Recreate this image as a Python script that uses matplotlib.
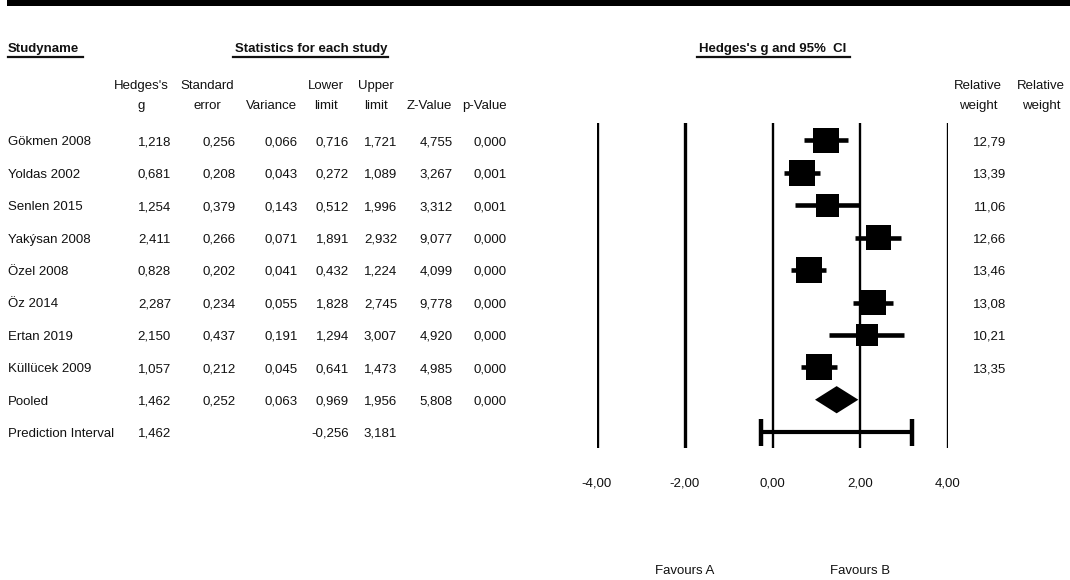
import matplotlib
matplotlib.use("Agg")
import matplotlib.pyplot as plt
from matplotlib.lines import Line2D
from matplotlib.patches import Rectangle
from matplotlib.transforms import blended_transform_factory

plt.rcParams['font.family'] = ['Liberation Sans', 'DejaVu Sans']

studies = ['Gökmen 2008', 'Yoldas 2002', 'Senlen 2015', 'Yakýsan 2008',
           'Özel 2008', 'Öz 2014', 'Ertan 2019', 'Küllücek 2009']
g = [1.218, 0.681, 1.254, 2.411, 0.828, 2.287, 2.150, 1.057]
se = [0.256, 0.208, 0.379, 0.266, 0.202, 0.234, 0.437, 0.212]
var = [0.066, 0.043, 0.143, 0.071, 0.041, 0.055, 0.191, 0.045]
lower = [0.716, 0.272, 0.512, 1.891, 0.432, 1.828, 1.294, 0.641]
upper = [1.721, 1.089, 1.996, 2.932, 1.224, 2.745, 3.007, 1.473]
zval = [4.755, 3.267, 3.312, 9.077, 4.099, 9.778, 4.920, 4.985]
pval = [0.000, 0.001, 0.001, 0.000, 0.000, 0.000, 0.000, 0.000]
weight = [12.79, 13.39, 11.06, 12.66, 13.46, 13.08, 10.21, 13.35]

pooled = dict(g=1.462, se=0.252, var=0.063, lower=0.969, upper=1.956, z=5.808, p=0.000)
pred = dict(g=1.462, lower=-0.256, upper=3.181)

ticks = [-4, -2, 0, 2, 4]
tick_labels = ['-4,00', '-2,00', '0,00', '2,00', '4,00']

W, H = 1070, 580
fig = plt.figure(figsize=(W / 100, H / 100), dpi=100)
ink = '#111111'
fs = 9.5
base = 0.15  # baseline offset below row centre, in row units


def fx(x):
    return x / W


def fy(y):
    return 1 - y / H


def num(v):
    return f"{v:.3f}".replace('.', ',')


# forest axes: x from -4 to 4 maps to pixels 597..948
ax = fig.add_axes([fx(597), fy(448), (948 - 597) / W, (448 - 123) / H])
ax.set_xlim(-4, 4)
ax.set_ylim(9.49, -0.54)
for s in ax.spines.values():
    s.set_visible(False)
ax.set_yticks([])
ax.set_xticks(ticks)
ax.set_xticklabels(tick_labels, fontsize=fs, color=ink)
ax.tick_params(axis='x', length=0, pad=21)

for t in ticks:
    lw = 1.7 if t in (0, 2) else 2.4
    ax.axvline(t, color='black', lw=lw)

rows = list(range(len(studies)))
ax.hlines(rows, lower, upper, color='black', lw=3.3)
ax.scatter(g, rows, marker='s', s=[26 * w for w in weight], color='black', linewidths=0, zorder=3)

# pooled diamond
pr = len(studies)
h = 0.42
ax.fill([pooled['lower'], pooled['g'], pooled['upper'], pooled['g']],
        [pr, pr - h, pr, pr + h], color='black', lw=0)

# prediction interval
ir = pr + 1
ax.hlines(ir, pred['lower'], pred['upper'], color='black', lw=3)
ax.vlines([pred['lower'], pred['upper']], ir - h, ir + h, color='black', lw=3.2)

# table text
tr = blended_transform_factory(fig.transFigure, ax.transData)
col_right = [171, 236, 298, 349, 397, 453, 507]


def cell(x, row, s, ha='right'):
    fig.text(fx(x), row + base, s, transform=tr, ha=ha, va='baseline', fontsize=fs, color=ink)


for i, name in enumerate(studies):
    cell(8, i, name, ha='left')
    vals = [g[i], se[i], var[i], lower[i], upper[i], zval[i], pval[i]]
    for xr, v in zip(col_right, vals):
        cell(xr, i, num(v))
    cell(1006, i, f"{weight[i]:.2f}".replace('.', ','))

cell(8, pr, 'Pooled', ha='left')
pooled_vals = [pooled['g'], pooled['se'], pooled['var'], pooled['lower'], pooled['upper'], pooled['z'], pooled['p']]
for xr, v in zip(col_right, pooled_vals):
    cell(xr, pr, num(v))

cell(8, ir, 'Prediction Interval', ha='left')
for xr, v in zip([col_right[0], col_right[3], col_right[4]], [pred['g'], pred['lower'], pred['upper']]):
    cell(xr, ir, num(v))

# column headers
headers = [(141, 'Hedges\'s', 'g'), (207, 'Standard', 'error'), (272, '', 'Variance'),
           (326, 'Lower', 'limit'), (376, 'Upper', 'limit'), (429, '', 'Z-Value'),
           (484, '', 'p-Value'), (978, 'Relative', 'weight'), (1041, 'Relative', 'weight')]
for xc, l1, l2 in headers:
    if l1:
        fig.text(fx(xc), fy(89), l1, ha='center', va='baseline', fontsize=fs, color=ink)
    fig.text(fx(xc), fy(109), l2, ha='center', va='baseline', fontsize=fs, color=ink)

# bold underlined section titles
titles = [(8, 'left', 'Studyname', 8, 83), (311, 'center', 'Statistics for each study', 233, 388),
          (773, 'center', "Hedges's g and 95%  CI", 697, 850)]
for xp, ha, txt, u0, u1 in titles:
    fig.text(fx(xp), fy(52), txt, ha=ha, va='baseline', fontsize=fs, fontweight='bold', color=ink)
    fig.add_artist(Line2D([fx(u0), fx(u1)], [fy(57), fy(57)], color=ink, lw=1.6))

# favours labels under the axis
tb = blended_transform_factory(ax.transData, fig.transFigure)
fig.text(-2, fy(574), 'Favours A', transform=tb, ha='center', va='baseline', fontsize=fs, color=ink)
fig.text(2, fy(574), 'Favours B', transform=tb, ha='center', va='baseline', fontsize=fs, color=ink)

# heavy rule along the top
fig.add_artist(Rectangle((fx(7), fy(6)), 1 - fx(7), 6 / H, transform=fig.transFigure,
                         color='black', lw=0))

fig.savefig('out.png', dpi=100)
